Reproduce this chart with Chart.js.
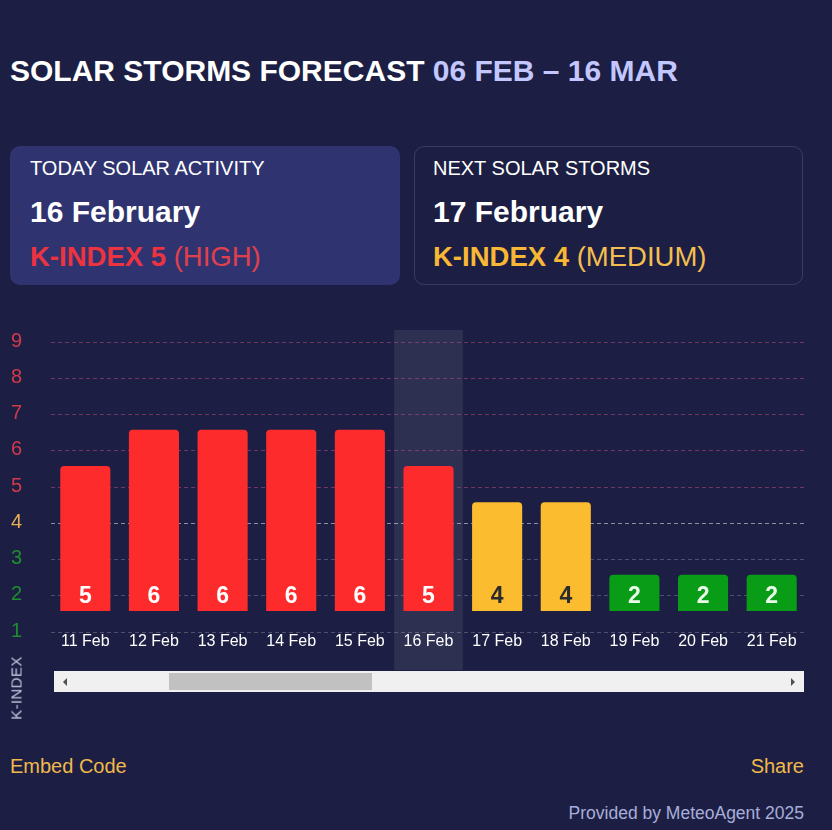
<!DOCTYPE html>
<html>
<head>
<meta charset="utf-8">
<script src="https://cdn.jsdelivr.net/npm/chart.js@4.4.1/dist/chart.umd.min.js"></script>
<style>
  body { margin: 0; background: #1c1f43; font-family: "Liberation Sans", Arial, sans-serif; color: #fff; }
  .wrap { position: relative; width: 832px; height: 830px; overflow: hidden; }
  .title { position: absolute; left: 10px; top: 54px; font-size: 30px; font-weight: bold; white-space: nowrap; }
  .title span { color: #c3c7ff; }
  .card { position: absolute; top: 146px; width: 390px; height: 139px; border-radius: 10px; box-sizing: border-box; padding: 10px 0 0 20px; }
  .card.today { left: 10px; background: #2f3470; }
  .card.next { left: 414px; width: 389px; border: 1px solid rgba(255,255,255,0.13); padding-left: 18px; padding-top: 9px; }
  .card .lbl { font-size: 20px; line-height: 24px; }
  .card .date { font-size: 30px; font-weight: bold; line-height: 34px; margin-top: 15px; }
  .card .k { font-size: 27.5px; line-height: 32px; margin-top: 12px; white-space: nowrap; }
  .card .k b { font-weight: bold; }
  .red { color: #ee3340; }
  .red span { color: #e0404c; }
  .yel { color: #f8b836; }
  .yel span { color: #f4be50; }
  #chartBox { position: absolute; left: 0; top: 320px; }
  .axisName { position: absolute; left: 16px; top: 688px; transform: translate(-50%, -50%) rotate(-90deg); font-size: 15px; letter-spacing: 0.4px; color: #c3c8e2; white-space: nowrap; }
  .scroll { position: absolute; left: 54px; top: 671px; width: 750px; height: 21px; background: #f0f0f0; }
  .thumb { position: absolute; left: 115px; top: 2px; width: 203px; height: 17px; background: #c1c1c1; }
  .arrL { position: absolute; left: 9px; top: 7px; width: 0; height: 0; border-top: 4px solid transparent; border-bottom: 4px solid transparent; border-right: 4px solid #505050; }
  .arrR { position: absolute; right: 9px; top: 7px; width: 0; height: 0; border-top: 4px solid transparent; border-bottom: 4px solid transparent; border-left: 4px solid #505050; }
  .embed { position: absolute; left: 10px; top: 755px; font-size: 20px; color: #f1b94b; }
  .share { position: absolute; right: 28px; top: 755px; font-size: 20px; color: #f1b94b; }
  .credit { position: absolute; right: 28px; top: 803px; font-size: 17.5px; color: #a9addb; }
</style>
</head>
<body>
<div class="wrap">
  <div class="title">SOLAR STORMS FORECAST <span>06 FEB – 16 MAR</span></div>

  <div class="card today">
    <div class="lbl">TODAY SOLAR ACTIVITY</div>
    <div class="date">16 February</div>
    <div class="k red"><b>K-INDEX 5</b> <span>(HIGH)</span></div>
  </div>
  <div class="card next">
    <div class="lbl">NEXT SOLAR STORMS</div>
    <div class="date">17 February</div>
    <div class="k yel"><b>K-INDEX 4</b> <span>(MEDIUM)</span></div>
  </div>

  <canvas id="chartBox" width="832" height="350"></canvas>
  <div class="axisName">K-INDEX</div>

  <div class="scroll">
    <div class="arrL"></div>
    <div class="thumb"></div>
    <div class="arrR"></div>
  </div>

  <div class="embed">Embed Code</div>
  <div class="share">Share</div>
  <div class="credit">Provided by MeteoAgent 2025</div>
</div>

<script>
// dados do grafico
const days = ["11 Feb", "12 Feb", "13 Feb", "14 Feb", "15 Feb", "16 Feb", "17 Feb", "18 Feb", "19 Feb", "20 Feb", "21 Feb"];
const kIndex = [5, 6, 6, 6, 6, 5, 4, 4, 2, 2, 2];
const todayIndex = 5;
const yMin = 1;
const yMax = 9;

// as barras comecam um pouco acima da linha "1" e crescem (k - 1) unidades
const BAR_BASE = 1.58;

function corNivel(k) {
  if (k >= 5) return "#fe2b2c";
  if (k === 4) return "#fbbd2f";
  return "#089c17";
}

function corTick(k) {
  if (k >= 5) return "#d23a4b";
  if (k === 4) return "#e8ac55";
  return "#1f8d30";
}

function corGrade(k) {
  if (k >= 5) return "rgba(200,80,130,0.5)";
  if (k === 4) return "rgba(255,255,255,0.5)";
  return "rgba(255,255,255,0.22)";
}

// faixa destacando o dia atual
const destaqueHoje = {
  id: "destaqueHoje",
  beforeDraw(chart) {
    const x = chart.scales.x;
    const w = x.width / days.length;
    const cx = x.getPixelForValue(todayIndex);
    const top = chart.chartArea.top - 12;
    const ctx = chart.ctx;
    ctx.save();
    ctx.fillStyle = "rgba(255,255,255,0.08)";
    ctx.fillRect(cx - w / 2, top, w, chart.height - top);
    ctx.restore();
  },
};

// numero dentro da barra, perto da base
const valorNaBarra = {
  id: "valorNaBarra",
  afterDatasetsDraw(chart) {
    const ctx = chart.ctx;
    const meta = chart.getDatasetMeta(0);
    ctx.save();
    ctx.font = "bold 23px 'Liberation Sans', Arial, sans-serif";
    ctx.textAlign = "center";
    ctx.textBaseline = "middle";
    meta.data.forEach((bar, i) => {
      const k = kIndex[i];
      ctx.fillStyle = k === 4 ? "#2b2b2b" : (k <= 3 ? "#eafbe8" : "#ffffff");
      ctx.fillText(String(k), bar.x, bar.base - 14);
    });
    ctx.restore();
  },
};

const ctx = document.getElementById("chartBox").getContext("2d");
new Chart(ctx, {
  type: "bar",
  data: {
    labels: days,
    datasets: [
      {
        label: "K-INDEX",
        data: kIndex.map((k) => [BAR_BASE, BAR_BASE + k - 1]),
        backgroundColor: kIndex.map(corNivel),
        borderRadius: { topLeft: 4, topRight: 4, bottomLeft: 0, bottomRight: 0 },
        borderSkipped: false,
        barPercentage: 0.73,
        categoryPercentage: 1,
      },
    ],
  },
  options: {
    responsive: false,
    animation: false,
    layout: { padding: { left: 11, right: 26, top: 22, bottom: 0 } },
    plugins: { legend: { display: false }, tooltip: { enabled: false } },
    scales: {
      x: {
        grid: { display: false, drawTicks: false },
        border: { display: false },
        ticks: {
          color: "#ffffff",
          font: { family: "'Liberation Sans', Arial, sans-serif", size: 16 },
          padding: 0,
          maxRotation: 0,
          autoSkip: false,
        },
        afterFit: (s) => { s.height = 38; },
      },
      y: {
        min: yMin,
        max: yMax,
        grid: {
          drawTicks: false,
          color: (c) => corGrade(c.tick ? c.tick.value : 0),
          lineWidth: 1,
        },
        border: { display: false, dash: [4, 3] },
        ticks: {
          stepSize: 1,
          crossAlign: "far",
          labelOffset: -1,
          color: (c) => corTick(c.tick ? c.tick.value : 0),
          font: { family: "'Liberation Sans', Arial, sans-serif", size: 20 },
        },
        afterFit: (s) => { s.width = 40; },
      },
    },
  },
  plugins: [destaqueHoje, valorNaBarra],
});
</script>
</body>
</html>
